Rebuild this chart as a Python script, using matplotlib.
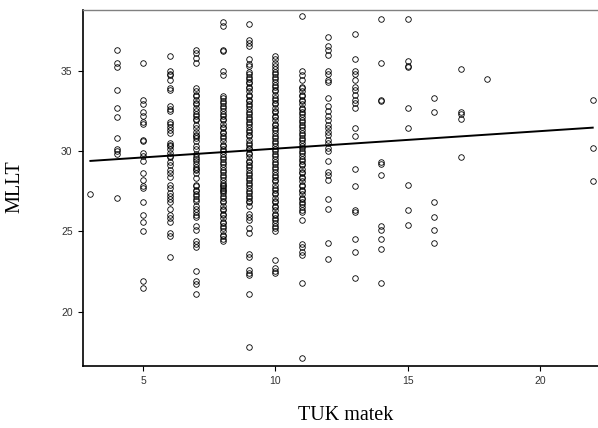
import numpy as np
import matplotlib
matplotlib.use("Agg")
import matplotlib.pyplot as plt

# ---- data: MLLT values grouped by TUK matek score ----
tuk_scores = [3, 4, 5, 6, 7, 8, 9, 10, 11, 12, 13, 14, 15, 16, 17, 18, 22]

mllt_3 = [27.3]
mllt_4 = [36.3, 35.5, 35.2, 33.8, 32.7, 32.1, 30.8, 30.1, 30.0, 29.8, 27.1]
mllt_5 = [35.5, 33.2, 32.9, 32.4, 32.2, 31.8, 31.7, 30.7, 30.6, 29.9, 29.7, 29.4,
          28.6, 28.2, 27.8, 27.7, 26.8, 26.0, 25.6, 25.0, 21.9, 21.5]
mllt_6 = [35.9, 35.0, 34.8, 34.7, 34.4, 33.9, 33.8, 32.8, 32.6, 32.5, 31.8, 31.7,
          31.5, 31.3, 31.1, 30.5, 30.4, 30.3, 30.1, 29.9, 29.7, 29.6, 29.3, 29.1,
          28.8, 28.6, 28.4, 27.9, 27.7, 27.4, 27.2, 27.0, 26.8, 26.4, 26.0, 25.8,
          25.6, 24.9, 24.7, 23.4]
mllt_7 = [36.3, 36.1, 35.8, 35.5, 33.9, 33.7, 33.5, 33.4, 33.2, 33.0, 32.9, 32.7,
          32.5, 32.3, 32.2, 32.0, 31.9, 31.6, 31.4, 31.2, 31.0, 30.9, 30.8, 30.6,
          30.3, 30.1, 29.8, 29.6, 29.5, 29.4, 29.2, 29.0, 28.9, 28.8, 28.6, 28.3,
          27.9, 27.8, 27.6, 27.5, 27.3, 27.2, 27.0, 26.9, 26.6, 26.4, 26.2, 26.0,
          25.9, 25.3, 25.1, 24.4, 24.2, 24.0, 22.5, 21.9, 21.7, 21.1]
mllt_8 = [38.0, 37.8, 36.3, 36.2, 35.0, 34.7,
          33.4, 33.3, 33.1, 33.0, 32.8, 32.7, 32.5, 32.3, 32.2, 32.0, 31.9, 31.7,
          31.5, 31.4, 31.2, 31.1, 30.9, 30.8, 30.6, 30.4, 30.3, 30.1, 30.0, 29.8,
          29.6, 29.5, 29.3, 29.2, 29.0, 28.8, 28.7, 28.5, 28.4, 28.2, 28.0, 27.9,
          27.8, 27.7, 27.6, 27.5, 27.4, 27.2, 27.1, 26.9, 26.8, 26.6, 26.4, 26.3,
          26.1, 26.0, 25.8, 25.6, 25.5, 25.3, 25.2, 25.0, 24.8, 24.7, 24.5, 24.4]
mllt_9 = [37.9, 36.9, 36.7, 36.5, 35.7, 35.4, 35.3,
          34.9, 34.8, 34.6, 34.5, 34.3, 34.2, 34.0, 33.9, 33.7, 33.5, 33.4, 33.2,
          33.1, 32.9, 32.8, 32.6, 32.4, 32.3, 32.1, 32.0, 31.8, 31.7, 31.5, 31.3,
          31.2, 31.0, 30.9, 30.7, 30.5, 30.4, 30.2, 30.1, 29.9, 29.8, 29.6, 29.4,
          29.3, 29.1, 29.0, 28.8, 28.6, 28.5, 28.3, 28.2, 28.0, 27.9, 27.7, 27.5,
          27.4, 27.2, 27.1, 26.9, 26.8, 26.6, 26.1, 25.9, 25.7, 25.2, 24.9,
          23.6, 23.4, 22.6, 22.4, 22.3, 21.1, 17.8]
mllt_10 = [35.9, 35.7, 35.5, 35.3,
           35.1, 34.9, 34.8, 34.6, 34.5, 34.3, 34.1, 34.0, 33.8, 33.7, 33.5, 33.3,
           33.2, 33.0, 32.9, 32.7, 32.5, 32.4, 32.2, 32.1, 31.9, 31.7, 31.6, 31.4,
           31.3, 31.1, 30.9, 30.8, 30.6, 30.5, 30.3, 30.1, 30.0, 29.8, 29.7, 29.5,
           29.3, 29.2, 29.0, 28.9, 28.7, 28.5, 28.4, 28.2, 28.1, 27.9, 27.7, 27.6,
           27.4, 27.3, 27.1, 26.9, 26.8, 26.6, 26.5, 26.3, 26.1, 26.0, 25.8, 25.7,
           25.5, 25.3, 25.2, 25.0, 23.2, 22.7, 22.5, 22.4]
mllt_11 = [38.4, 35.0, 34.7, 34.4,
           34.0, 33.9, 33.7, 33.5, 33.4, 33.2, 33.1, 32.9, 32.7, 32.6, 32.4, 32.3,
           32.1, 31.9, 31.8, 31.6, 31.5, 31.3, 31.1, 31.0, 30.8, 30.7, 30.5, 30.3,
           30.2, 30.0, 29.9, 29.7, 29.5, 29.4, 29.2, 29.1, 28.9, 28.7, 28.6, 28.4,
           28.3, 28.1, 27.9, 27.8, 27.6, 27.5, 27.3, 27.1, 27.0, 26.8, 26.7, 26.5,
           26.3, 26.2, 25.7, 24.2, 24.0, 23.7, 23.5, 21.8, 17.1]
mllt_12 = [37.1, 36.5, 36.3, 36.0, 35.0, 34.8, 34.4, 34.3, 33.3, 32.8, 32.5, 32.2,
           31.9, 31.6, 31.4, 31.2, 31.0, 30.7, 30.5, 30.2, 30.0, 29.4, 28.7, 28.5,
           28.2, 27.0, 26.4, 24.3, 23.3]
mllt_13 = [37.3, 35.7, 35.0, 34.8, 34.4, 34.0, 33.8, 33.5, 33.2, 33.0, 32.7, 31.4,
           30.9, 28.9, 27.8, 26.3, 26.2, 24.5, 23.7, 22.1]
mllt_14 = [38.2, 35.5, 33.2, 33.1, 29.3, 29.2, 28.5, 25.3, 25.1, 24.5, 23.9, 21.8]
mllt_15 = [38.2, 35.6, 35.3, 35.2, 32.7, 31.4, 27.9, 26.3, 25.4]
mllt_16 = [33.3, 32.4, 26.8, 25.9, 25.1, 24.3]
mllt_17 = [35.1, 32.4, 32.3, 32.0, 29.6]
mllt_18 = [34.5]
mllt_22 = [33.2, 30.2, 28.1]

mllt_groups = [mllt_3, mllt_4, mllt_5, mllt_6, mllt_7, mllt_8, mllt_9, mllt_10,
               mllt_11, mllt_12, mllt_13, mllt_14, mllt_15, mllt_16, mllt_17,
               mllt_18, mllt_22]

# fitted regression line
fit_x = [3, 22]
fit_y = [29.38, 31.45]

x_ticks = [5, 10, 15, 20]
y_ticks = [20, 25, 30, 35]

# ---- build arrays ----
xs = np.concatenate([np.full(len(g), s, dtype=float) for s, g in zip(tuk_scores, mllt_groups)])
ys = np.concatenate([np.asarray(g, dtype=float) for g in mllt_groups])

fig = plt.figure(figsize=(5.98, 4.28), dpi=100)
ax = fig.add_axes([83 / 598, 62 / 428, 515 / 598, 356 / 428])

ax.plot(xs, ys, linestyle="none", marker="o", markersize=4.0,
        markerfacecolor="none", markeredgecolor="black", markeredgewidth=0.6)
ax.plot(fit_x, fit_y, color="black", linewidth=1.4)

ax.set_xlim(2.72, 22.2)
ax.set_ylim(16.62, 38.77)
ax.set_xticks(x_ticks)
ax.set_yticks(y_ticks)

for lab in ax.get_xticklabels() + ax.get_yticklabels():
    lab.set_fontfamily("Liberation Sans")
    lab.set_fontsize(7.5)
    lab.set_color("#333333")
ax.tick_params(direction="out", length=3.5, width=0.8, color="black", pad=4)

ax.spines["left"].set_linewidth(1.2)
ax.spines["bottom"].set_linewidth(1.2)
ax.spines["top"].set_color("#808080")
ax.spines["top"].set_linewidth(1.0)
ax.spines["right"].set_visible(False)

ax.set_xlabel("TUK matek", fontfamily="Liberation Serif", fontsize=14.5)
ax.xaxis.set_label_coords(0.51, -0.112)
ax.set_ylabel("MLLT", fontfamily="Liberation Serif", fontsize=14.5)
ax.yaxis.label.set_va("center")
ax.yaxis.set_label_coords(-0.132, 0.505)

fig.savefig("out.png", dpi=100)
